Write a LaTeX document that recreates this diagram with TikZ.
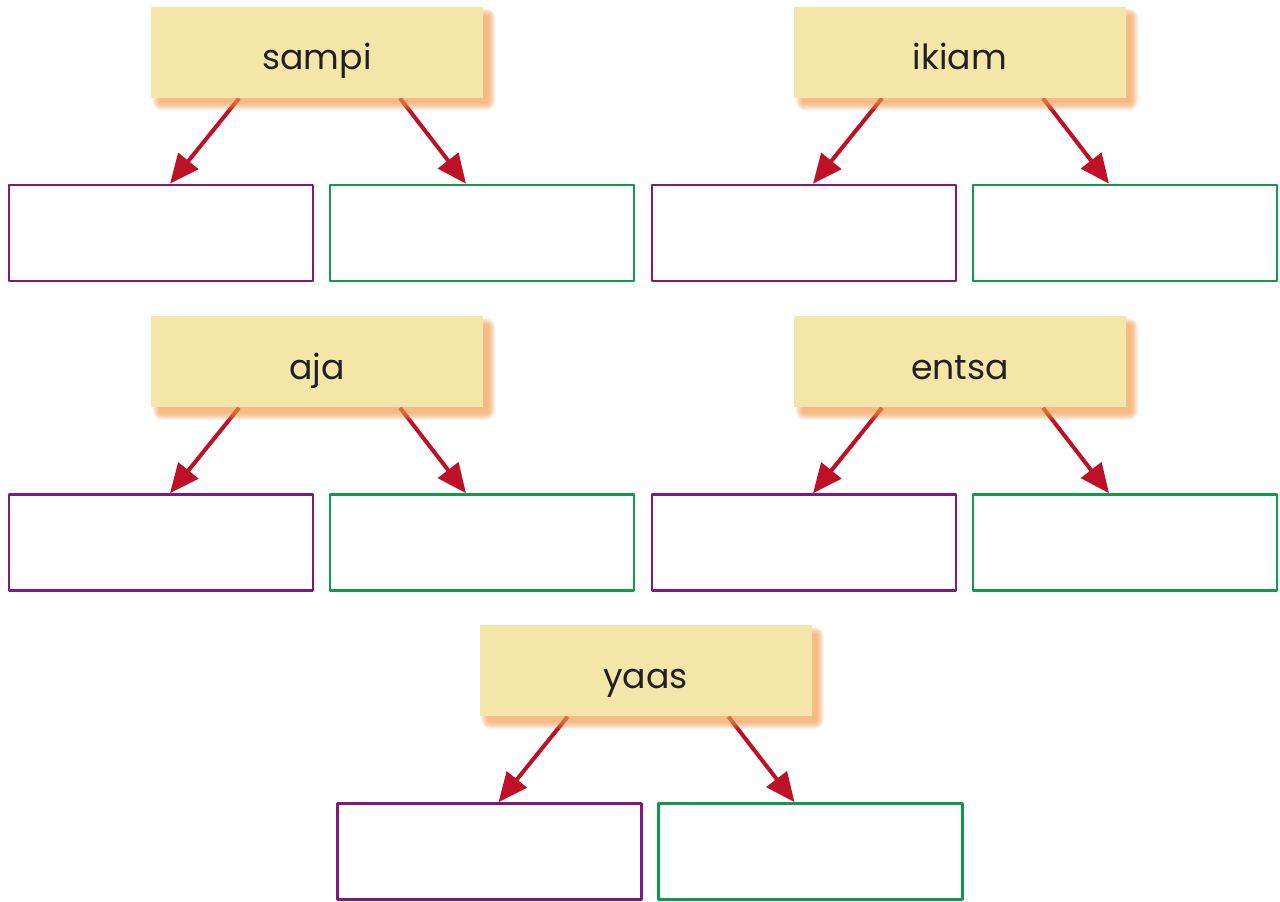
\documentclass[tikz,border=0pt]{standalone}
\usepackage{fontspec}
\setmainfont{Poppins}
\usetikzlibrary{arrows.meta}
\definecolor{sand}{HTML}{F4E6A9}
\definecolor{lila}{HTML}{7E1A7E}
\definecolor{gruen}{HTML}{12994C}
\definecolor{rot}{HTML}{BE1128}
\definecolor{orange}{HTML}{EF9A48}
\definecolor{tinte}{HTML}{231F20}
\pgfdeclarelayer{hinten}
\pgfsetlayers{hinten,main}
\begin{document}
\begin{tikzpicture}[x=.75pt,y=.75pt,line cap=round,line join=round,
  kopf/.style={fill=sand,minimum width=249pt,minimum height=68.25pt,inner sep=0pt,
    text height=26pt,text depth=0pt,font=\fontsize{26}{28}\selectfont,text=tinte},
  feld/.style={line width=1.9pt,fill=white,minimum width=228pt,minimum height=72pt,inner sep=0pt},
  pfeil/.style={draw=rot,line width=3pt,line cap=butt,-{Triangle[length=22pt,width=19pt]}},
  schatten/.style={fill=orange,fill opacity=.13}]
\useasboundingbox (0,0) rectangle (1280,902);
% Fuenf Woerter, jedes mit zwei leeren Feldern darunter.
\foreach \wort/\x/\y in {sampi/317/849.5,ikiam/960/849.5,aja/317/540,entsa/960/540,yaas/645.5/231}{
 \node[kopf] (\wort) at (\x,\y) {\wort};
 \node[feld,draw=lila] (\wort-l) at (\x-156,\y-180.5) {};
 \node[feld,draw=gruen] (\wort-r) at (\x+165,\y-180.5) {};
 \begin{pgfonlayer}{hinten}
 \draw[pfeil] ([shift={(-78,0)}]\wort.south) -- ([shift={(9,0)}]\wort-l.north);
 \draw[pfeil] ([shift={(83,0)}]\wort.south) -- ([shift={(-16,0)}]\wort-r.north);
 % weicher Schatten rechts unten
 \foreach \e in {0,...,7}
  \fill[schatten,rounded corners=\e] ([shift={(9-\e,-5-\e)}]\wort.south west)
   rectangle ([shift={(5+\e,-9+\e)}]\wort.north east);
 \end{pgfonlayer}
}
\end{tikzpicture}
\end{document}
